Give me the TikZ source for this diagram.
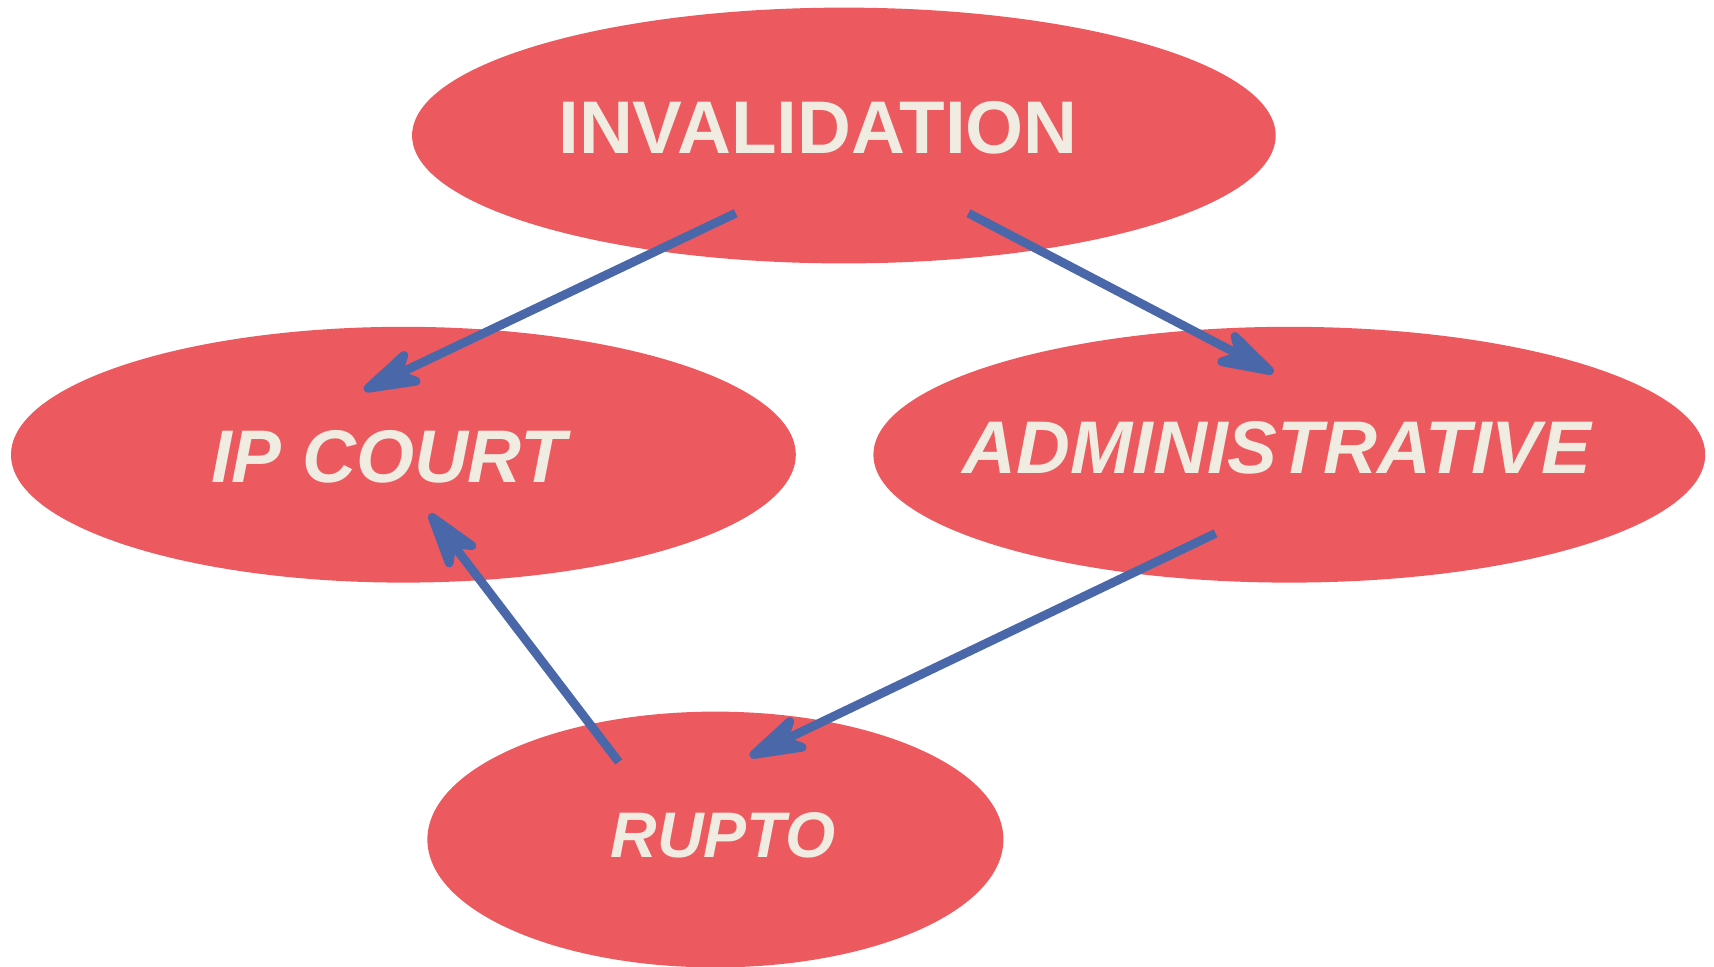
\documentclass[tikz,border=0pt]{standalone}
\usepackage{fontspec}
\setmainfont{Liberation Sans}
\usetikzlibrary{shapes.geometric,arrows.meta,calc}
\definecolor{blobred}{RGB}{236,90,95}
\definecolor{labelcream}{RGB}{240,236,226}
\definecolor{linkblue}{RGB}{74,103,170}
\begin{document}
\begin{tikzpicture}[x=0.5pt,y=-0.5pt,
  blob/.style={ellipse,fill=blobred,draw=none,inner sep=0pt},
  caption/.style={text=labelcream,font=\fontsize{37.3}{40}\selectfont\bfseries,anchor=base,inner sep=0pt},
  slanted/.style={caption,font=\fontsize{37.3}{40}\selectfont\bfseries\itshape},
  small slanted/.style={caption,font=\fontsize{32.2}{36}\selectfont\bfseries\itshape},
  link/.style={draw=linkblue,line width=4.4pt,
    -{Stealth[length=38pt,width=23pt,inset=11pt,round]}}]
  \useasboundingbox (0,0) rectangle (1714,966);
  % ellipses
  \node[blob,minimum width=863.6pt*0.5,minimum height=255.8pt*0.5] (inv) at (843.9,135.5) {};
  \node[blob,minimum width=784.8pt*0.5,minimum height=255.8pt*0.5] (ipc) at (403.4,454.7) {};
  \node[blob,minimum width=831.8pt*0.5,minimum height=255.8pt*0.5] (adm) at (1289.3,454.7) {};
  \node[blob,minimum width=576pt*0.5,minimum height=255.8pt*0.5] (rup) at (715.4,839.5) {};
  % labels
  \node[caption] (invt) at (818,153) {INVALIDATION};
  \node[slanted] (ipct) at (388.6,482) {IP COURT};
  \node[slanted] (admt) at (1277,473.3) {ADMINISTRATIVE};
  \node[small slanted] (rupt) at (723,857) {RUPTO};
  % connectors
  \draw[link] ([shift={(-108.2,77.7)}]inv.center) -- ([shift={(-39.4,-64.5)}]ipc.center);
  \draw[link] ([shift={(124.6,77.7)}]inv.center) -- ([shift={(-15.8,-82)}]adm.center);
  \draw[link] ([shift={(-73.8,78.7)}]adm.center) -- ([shift={(34.5,-83.1)}]rup.center);
  \draw[link] ([shift={(-96.7,-77.6)}]rup.center) -- ([shift={(26.2,59.1)}]ipc.center);
\end{tikzpicture}
\end{document}
